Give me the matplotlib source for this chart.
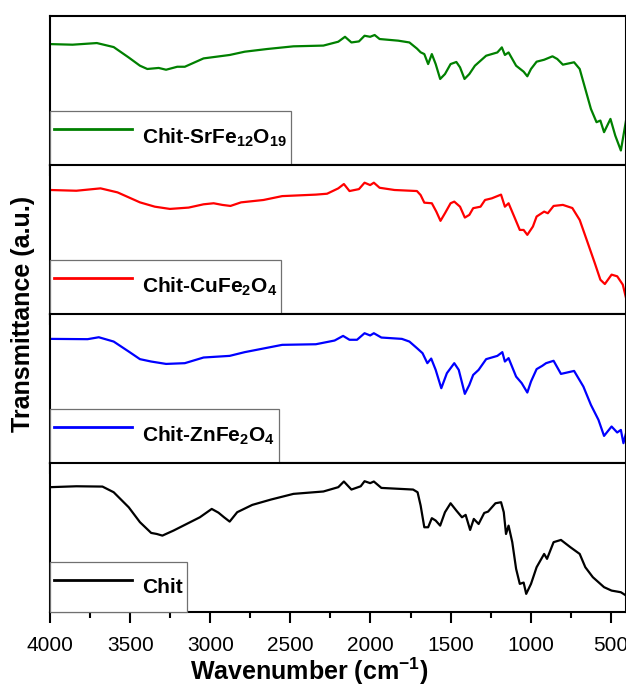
import matplotlib
matplotlib.use("Agg")
import matplotlib.pyplot as plt
from matplotlib.ticker import MultipleLocator

plt.rcParams['font.family'] = ['Liberation Sans', 'DejaVu Sans']
plt.rcParams['mathtext.fontset'] = 'custom'
plt.rcParams['mathtext.rm'] = 'Liberation Sans:bold'
plt.rcParams['mathtext.it'] = 'Liberation Sans:bold'
plt.rcParams['mathtext.bf'] = 'Liberation Sans:bold'

# FTIR spectra (transmittance in a.u., each panel scaled 0-1)
sr_wn = [4000, 3860, 3708, 3603, 3509, 3439, 3393, 3322, 3276, 3206, 3159, 3042, 2879, 2785,
         2645, 2481, 2294, 2201, 2159, 2119, 2072, 2037, 2002, 1974, 1943, 1827, 1757, 1710,
         1687, 1664, 1640, 1617, 1593, 1565, 1535, 1500, 1464, 1441, 1413, 1383, 1348, 1278,
         1208, 1180, 1161, 1138, 1091, 1044, 1021, 998, 963, 916, 864, 834, 799, 729, 694,
         659, 624, 589, 565, 542, 502, 472, 437, 405]
sr_t = [0.810, 0.806, 0.817, 0.790, 0.720, 0.665, 0.643, 0.650, 0.638, 0.658, 0.658, 0.714,
        0.737, 0.759, 0.777, 0.795, 0.800, 0.826, 0.859, 0.821, 0.828, 0.866, 0.859, 0.871,
        0.844, 0.833, 0.821, 0.780, 0.755, 0.743, 0.676, 0.743, 0.676, 0.576, 0.609, 0.676,
        0.690, 0.654, 0.576, 0.609, 0.665, 0.732, 0.754, 0.788, 0.737, 0.754, 0.665, 0.625,
        0.594, 0.643, 0.692, 0.705, 0.728, 0.710, 0.672, 0.688, 0.643, 0.509, 0.375, 0.286,
        0.297, 0.219, 0.308, 0.196, 0.096, 0.297]

cu_wn = [4000, 3836, 3685, 3579, 3439, 3346, 3252, 3135, 3042, 2979, 2925, 2874, 2808, 2668,
         2551, 2341, 2271, 2201, 2166, 2131, 2072, 2037, 2002, 1979, 1943, 1850, 1710, 1687,
         1664, 1617, 1589, 1563, 1535, 1500, 1477, 1441, 1411, 1383, 1359, 1313, 1285, 1243,
         1185, 1161, 1138, 1103, 1068, 1044, 1021, 986, 963, 916, 893, 857, 799, 740, 694,
         647, 600, 565, 537, 495, 460, 425, 405]
cu_t = [0.831, 0.826, 0.842, 0.815, 0.748, 0.719, 0.704, 0.713, 0.735, 0.742, 0.731, 0.724,
        0.748, 0.764, 0.790, 0.800, 0.806, 0.842, 0.871, 0.824, 0.837, 0.880, 0.864, 0.880,
        0.846, 0.831, 0.824, 0.797, 0.746, 0.742, 0.686, 0.624, 0.675, 0.742, 0.753, 0.719,
        0.646, 0.664, 0.709, 0.719, 0.764, 0.775, 0.800, 0.719, 0.742, 0.653, 0.563, 0.563,
        0.530, 0.586, 0.653, 0.686, 0.675, 0.724, 0.731, 0.710, 0.630, 0.486, 0.341, 0.229,
        0.200, 0.263, 0.252, 0.196, 0.107]

zn_wn = [4000, 3766, 3696, 3603, 3509, 3439, 3369, 3276, 3159, 3042, 2879, 2785, 2551, 2341,
         2224, 2171, 2131, 2084, 2037, 2002, 1979, 1932, 1804, 1757, 1710, 1675, 1645, 1621,
         1593, 1558, 1523, 1477, 1449, 1411, 1383, 1359, 1325, 1278, 1208, 1177, 1161, 1138,
         1091, 1056, 1021, 998, 963, 928, 904, 857, 811, 729, 671, 624, 577, 542, 495, 460,
         437, 421, 405]
zn_t = [0.832, 0.830, 0.843, 0.814, 0.747, 0.696, 0.680, 0.664, 0.669, 0.707, 0.718, 0.743,
        0.792, 0.796, 0.821, 0.852, 0.826, 0.826, 0.870, 0.855, 0.870, 0.841, 0.832, 0.814,
        0.770, 0.736, 0.669, 0.700, 0.624, 0.501, 0.602, 0.669, 0.624, 0.463, 0.523, 0.590,
        0.624, 0.696, 0.718, 0.743, 0.680, 0.703, 0.579, 0.535, 0.472, 0.546, 0.629, 0.651,
        0.669, 0.685, 0.597, 0.617, 0.512, 0.389, 0.289, 0.181, 0.244, 0.204, 0.221, 0.132,
        0.199]

chit_wn = [4000, 3836, 3673, 3603, 3509, 3439, 3369, 3334, 3299, 3229, 3135, 3065, 2991, 2949,
           2914, 2879, 2832, 2738, 2621, 2481, 2294, 2201, 2166, 2119, 2061, 2037, 2002, 1979,
           1932, 1734, 1706, 1687, 1664, 1640, 1617, 1593, 1565, 1535, 1500, 1464, 1429, 1406,
           1378, 1355, 1325, 1290, 1266, 1220, 1185, 1168, 1154, 1138, 1115, 1091, 1068, 1044,
           1028, 998, 963, 916, 898, 857, 811, 752, 694, 659, 612, 542, 495, 437, 405]
chit_t = [0.837, 0.843, 0.841, 0.803, 0.702, 0.602, 0.530, 0.523, 0.512, 0.546, 0.597, 0.635,
          0.691, 0.666, 0.635, 0.606, 0.669, 0.718, 0.754, 0.792, 0.808, 0.837, 0.875, 0.821,
          0.843, 0.877, 0.864, 0.875, 0.832, 0.821, 0.803, 0.714, 0.568, 0.568, 0.629, 0.613,
          0.579, 0.669, 0.729, 0.680, 0.635, 0.651, 0.550, 0.624, 0.590, 0.664, 0.673, 0.729,
          0.736, 0.669, 0.523, 0.579, 0.468, 0.289, 0.188, 0.197, 0.121, 0.188, 0.300, 0.389,
          0.356, 0.468, 0.483, 0.434, 0.389, 0.300, 0.233, 0.166, 0.143, 0.132, 0.110]

series = [
    (sr_wn, sr_t, '#008000', 'Chit-SrFe$_{12}$O$_{19}$'),
    (cu_wn, cu_t, '#ff0000', 'Chit-CuFe$_2$O$_4$'),
    (zn_wn, zn_t, '#0000ff', 'Chit-ZnFe$_2$O$_4$'),
    (chit_wn, chit_t, '#000000', 'Chit'),
]

fig = plt.figure(figsize=(6.26, 6.86), dpi=100)
left, right = 0.08, 1.0
bottom, top = 0.108, 0.977
h = (top - bottom) / 4

for i, (wn, t, col, lab) in enumerate(series):
    ax = fig.add_axes([left, top - (i + 1) * h, right - left, h])
    ax.plot(wn, t, color=col, lw=1.6, label=lab)
    ax.set_xlim(4000, 405)
    ax.set_ylim(0, 1)
    ax.set_yticks([])
    for s in ax.spines.values():
        s.set_linewidth(1.5)
    ax.xaxis.set_major_locator(MultipleLocator(500))
    ax.xaxis.set_minor_locator(MultipleLocator(250))
    ax.tick_params(axis='x', which='major', direction='out', length=8, width=1.5, pad=9,
                   labelsize=15)
    ax.tick_params(axis='x', which='minor', direction='out', length=4.5, width=1.5)
    if i < 3:
        ax.tick_params(axis='x', labelbottom=False)
    hh = 2.7 if lab == 'Chit' else 3.0
    leg = ax.legend(loc='lower left', bbox_to_anchor=(0, 0), borderaxespad=0,
                    fancybox=False, framealpha=1, edgecolor='#707070',
                    prop={'weight': 'bold', 'size': 15}, handlelength=3.75,
                    handletextpad=0.45, borderpad=0.2, handleheight=hh)
    leg.get_frame().set_linewidth(0.9)
    leg.get_lines()[0].set_linewidth(2)

fig.text(309 / 626, 1 - 680 / 686, 'Wavenumber (cm$^{-1}$)', fontsize=18,
         fontweight='bold', ha='center', va='baseline')
fig.text(0.037, (top + bottom) / 2, 'Transmittance (a.u.)', rotation=90, fontsize=18,
         fontweight='bold', ha='center', va='center')

fig.savefig('out.png', dpi=100)
